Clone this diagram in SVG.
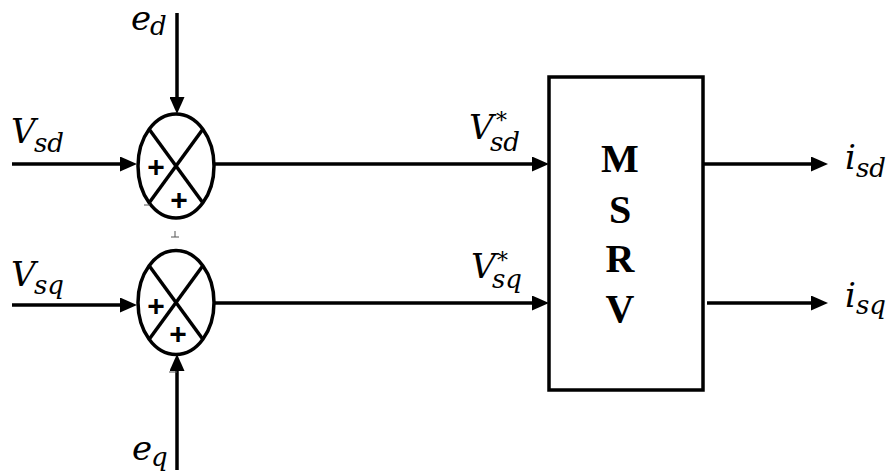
<svg xmlns="http://www.w3.org/2000/svg" width="888" height="476" viewBox="0 0 888 476">
<style>
.ln{stroke:#000;stroke-width:3.5;fill:none}
.m{font-family:"DejaVu Serif","Liberation Serif",serif;font-style:italic;font-size:34px;fill:#000}
.s{font-family:"DejaVu Serif","Liberation Serif",serif;font-style:italic;font-size:26px;fill:#000}
.st{font-family:"DejaVu Serif","Liberation Serif",serif;font-size:22px;fill:#000}
.pl{font-family:"Liberation Sans",Arial,sans-serif;font-weight:bold;font-size:30px;fill:#000;text-anchor:middle}
.b{font-family:"Liberation Serif","Times New Roman",serif;font-weight:bold;font-size:40px;fill:#000;text-anchor:middle}
.tick{stroke:#555;stroke-width:1;fill:none}
</style>
<defs>
<marker id="ah" viewBox="0 0 17 15" markerWidth="17" markerHeight="15" refX="6" refY="7.5" orient="auto" markerUnits="userSpaceOnUse">
<path d="M0,0 L17,7.5 L0,15 z" fill="#000"/>
</marker>
</defs>
<g id="connectors">
<line class="ln" x1="177" y1="13" x2="177" y2="103" marker-end="url(#ah)"/>
<line class="ln" x1="12" y1="164" x2="126" y2="164" marker-end="url(#ah)"/>
<line class="ln" x1="214" y1="164" x2="538" y2="164" marker-end="url(#ah)"/>
<line class="ln" x1="12" y1="305" x2="126" y2="305" marker-end="url(#ah)"/>
<line class="ln" x1="214" y1="303" x2="538" y2="303" marker-end="url(#ah)"/>
<line class="ln" x1="177" y1="470" x2="177" y2="365" marker-end="url(#ah)"/>
<line class="ln" x1="703" y1="164" x2="817" y2="164" marker-end="url(#ah)"/>
<line class="ln" x1="707" y1="303" x2="817" y2="303" marker-end="url(#ah)"/>
</g>
<g id="sum1">
<ellipse class="ln" cx="176" cy="166" rx="38" ry="52"/>
<line class="ln" x1="149" y1="129" x2="203" y2="203"/>
<line class="ln" x1="203" y1="129" x2="149" y2="203"/>
<text class="pl" x="156" y="177">+</text>
<text class="pl" x="179" y="210">+</text>
<line class="tick" x1="144" y1="205" x2="150" y2="205"/>
</g>
<g id="sum2">
<ellipse class="ln" cx="176" cy="302.5" rx="38" ry="52"/>
<line class="ln" x1="149" y1="265.5" x2="203" y2="339.5"/>
<line class="ln" x1="203" y1="265.5" x2="149" y2="339.5"/>
<text class="pl" x="156" y="316">+</text>
<text class="pl" x="178" y="344">+</text>
<line class="tick" x1="175" y1="231" x2="175" y2="237"/>
<line class="tick" x1="171" y1="237" x2="179" y2="237"/>
<line class="tick" x1="169" y1="372" x2="177" y2="372"/>
</g>
<g id="msrv">
<rect class="ln" x="549" y="77" width="154" height="313"/>
<text class="b" x="620" y="172">M</text>
<text class="b" x="620" y="223">S</text>
<text class="b" x="620" y="272">R</text>
<text class="b" x="620" y="322">V</text>
</g>
<g id="labels">
<text class="m" x="131" y="30">e</text><text class="s" x="150" y="35">d</text>
<text class="m" x="11" y="143">V</text><text class="s" x="34" y="152">sd</text>
<text class="m" x="11" y="286">V</text><text class="s" x="34" y="294">sq</text>
<text class="m" x="132" y="460">e</text><text class="s" x="151" y="466">q</text>
<text class="m" x="469" y="139">V</text><text class="s" x="490" y="151">sd</text><text class="st" x="496" y="128">*</text>
<text class="m" x="471" y="278">V</text><text class="s" x="492" y="288">sq</text><text class="st" x="497" y="268">*</text>
<text class="m" x="845" y="169">i</text><text class="s" x="856" y="177">sd</text>
<text class="m" x="845" y="307">i</text><text class="s" x="856" y="314">sq</text>
</g>
</svg>
